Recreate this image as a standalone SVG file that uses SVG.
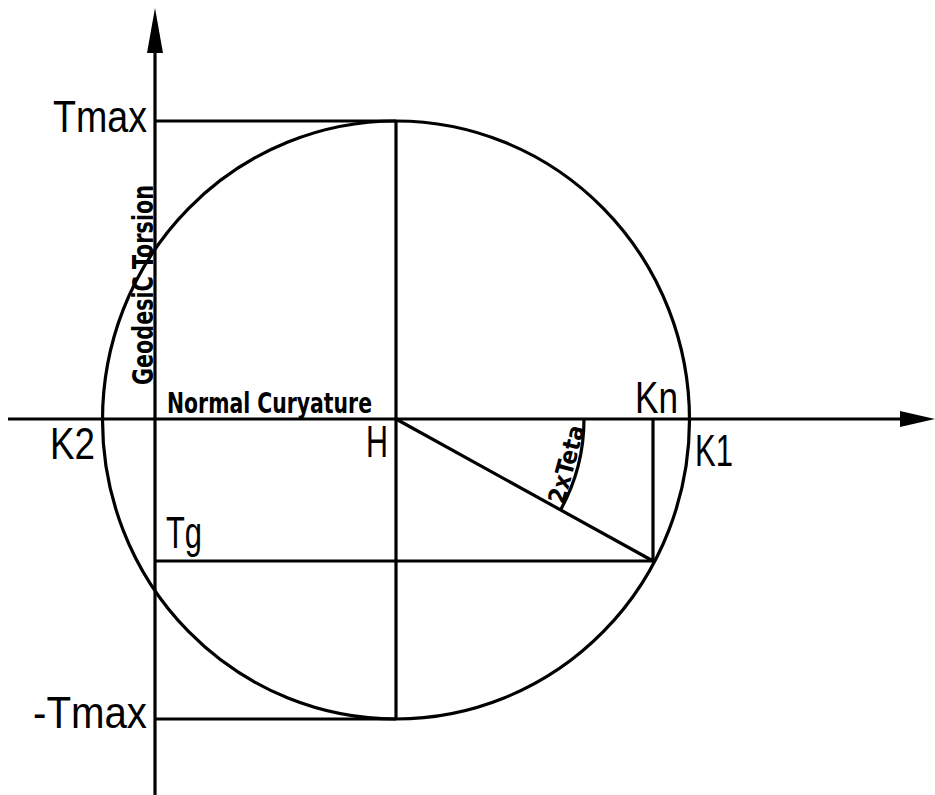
<svg xmlns="http://www.w3.org/2000/svg" width="935" height="795" viewBox="0 0 935 795">
<style>
.ln{stroke:#000;stroke-width:3.2;fill:none;stroke-linecap:butt}
.lbl{font-family:"Liberation Sans","DejaVu Sans",sans-serif;font-size:45px;fill:#000}
.ax{font-family:"DejaVu Sans Condensed","Liberation Sans",sans-serif;font-weight:bold;font-size:29px;fill:#000}
.ah{fill:#000;stroke:none}
</style>
<rect width="935" height="795" fill="#fff"/>
<g id="connectors">
<line class="ln" x1="155" y1="50" x2="155" y2="795"/>
<polygon class="ah" points="155,8 147,53 163,53"/>
<line class="ln" x1="8" y1="419" x2="902" y2="419"/>
<polygon class="ah" points="935,419 900,411 900,427"/>
<line class="ln" x1="155" y1="121" x2="396" y2="121"/>
<line class="ln" x1="155" y1="719" x2="396" y2="719"/>
<line class="ln" x1="396" y1="121" x2="396" y2="719"/>
<line class="ln" x1="155" y1="561" x2="653" y2="561"/>
<line class="ln" x1="653" y1="419" x2="653" y2="561"/>
<line class="ln" x1="396" y1="419" x2="653" y2="561"/>
<path class="ln" d="M584,419 A188,188 0 0 1 560.6,509.9"/>
</g>
<g id="circle">
<ellipse class="ln" cx="396" cy="420" rx="293.5" ry="299"/>
</g>
<g id="label-tmax"><text class="lbl" x="53" y="132" textLength="94" lengthAdjust="spacingAndGlyphs">Tmax</text></g>
<g id="label-neg-tmax"><text class="lbl" x="33" y="728" textLength="114" lengthAdjust="spacingAndGlyphs">-Tmax</text></g>
<g id="label-k2"><text class="lbl" x="50" y="459" textLength="45" lengthAdjust="spacingAndGlyphs">K2</text></g>
<g id="label-h"><text class="lbl" x="366" y="457" textLength="22" lengthAdjust="spacingAndGlyphs">H</text></g>
<g id="label-tg"><text class="lbl" x="166" y="548" textLength="36" lengthAdjust="spacingAndGlyphs">Tg</text></g>
<g id="label-kn"><text class="lbl" x="635" y="413" textLength="43" lengthAdjust="spacingAndGlyphs">Kn</text></g>
<g id="label-k1"><text class="lbl" x="695" y="466" textLength="38" lengthAdjust="spacingAndGlyphs">K1</text></g>
<g id="label-normal"><text class="ax" x="167" y="413" textLength="205" lengthAdjust="spacingAndGlyphs">Normal Curyature</text></g>
<g id="label-geodesic"><text class="ax" transform="translate(153,385) rotate(-90)" textLength="200" lengthAdjust="spacingAndGlyphs">GeodesiC Torsion</text></g>
<g id="label-teta"><text class="ax" style="font-size:24px" transform="translate(564,505) rotate(-75)" textLength="80" lengthAdjust="spacingAndGlyphs">2xTeta</text></g>
</svg>
